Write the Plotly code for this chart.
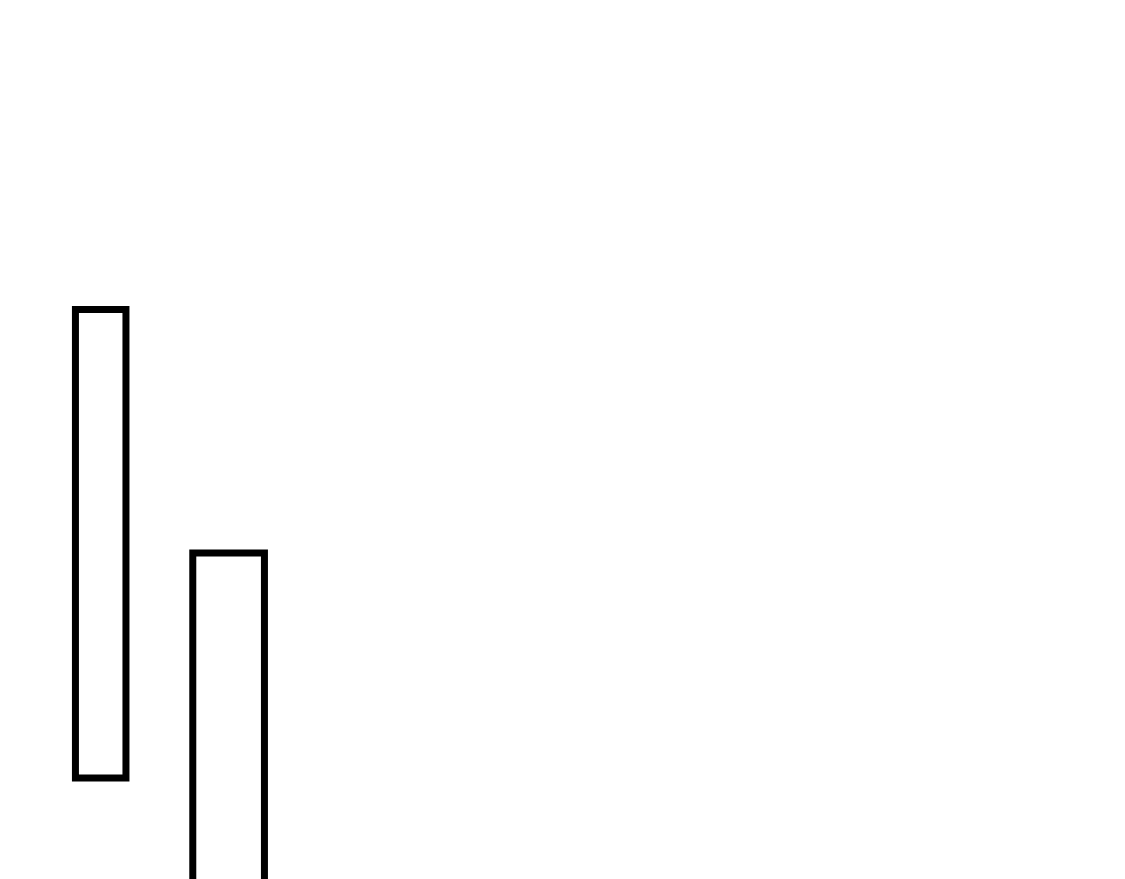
import plotly.graph_objects as go

# Data: floating bars (position, bottom, top)
categories = ["A", "B"]
positions = [0.824, 1.961]
bar_bottoms = [12.4, -20.0]
bar_tops = [65.7, 38.0]
bar_widths = [0.449, 0.637]

heights = [t - b for t, b in zip(bar_tops, bar_bottoms)]

fig = go.Figure()
fig.add_trace(go.Bar(
    x=positions,
    y=heights,
    base=bar_bottoms,
    width=bar_widths,
    name="",
    text=categories,
    textposition="none",
    marker=dict(color="white", line=dict(color="black", width=7)),
    hoverinfo="skip",
))

fig.update_layout(
    width=1125,
    height=879,
    margin=dict(l=0, r=0, t=0, b=0),
    paper_bgcolor="white",
    plot_bgcolor="white",
    showlegend=False,
    xaxis=dict(range=[0, 10], visible=False, showgrid=False, zeroline=False),
    yaxis=dict(range=[0, 100], visible=False, showgrid=False, zeroline=False),
)

fig.write_html("out.html")
